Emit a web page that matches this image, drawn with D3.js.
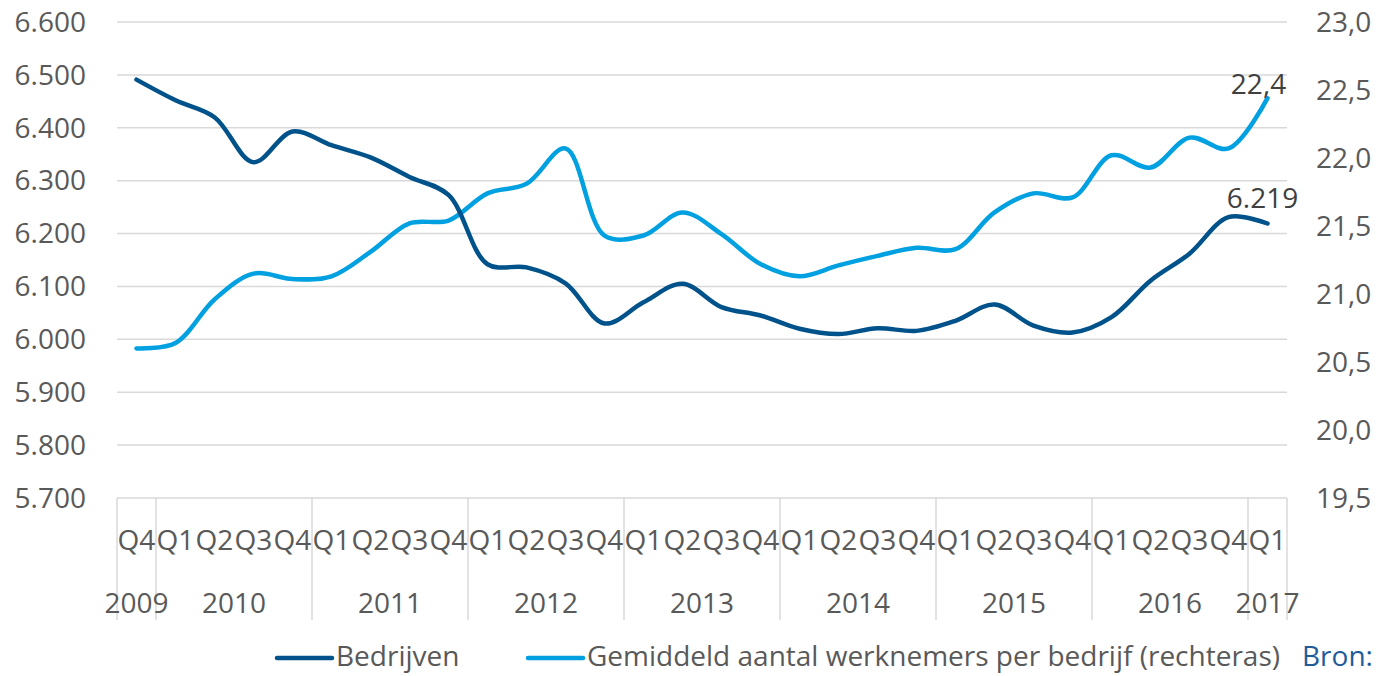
<!DOCTYPE html>
<html>
<head>
<meta charset="utf-8">
<script src="https://cdn.jsdelivr.net/npm/d3@7"></script>
<style>
  body { margin: 0; background: #fff; }
  svg text { font-family: "Open Sans", "Noto Sans", sans-serif; }
</style>
</head>
<body>
<div id="chart"></div>
<script>
// categories: quarter + year group
var quarters = ["Q4","Q1","Q2","Q3","Q4","Q1","Q2","Q3","Q4","Q1","Q2","Q3","Q4","Q1","Q2","Q3","Q4",
                "Q1","Q2","Q3","Q4","Q1","Q2","Q3","Q4","Q1","Q2","Q3","Q4","Q1"];
var years = ["2009","2010","2010","2010","2010","2011","2011","2011","2011","2012","2012","2012","2012",
             "2013","2013","2013","2013","2014","2014","2014","2014","2015","2015","2015","2015",
             "2016","2016","2016","2016","2017"];
// Bedrijven (left axis)
var bedrijven = [6.491, 6.452, 6.420, 6.335, 6.393, 6.367, 6.344, 6.307, 6.273, 6.142,
                 6.136, 6.106, 6.030, 6.070, 6.105, 6.061, 6.045, 6.020, 6.010, 6.021,
                 6.016, 6.035, 6.066, 6.026, 6.013, 6.042, 6.111, 6.162, 6.231, 6.219];
// Gemiddeld aantal werknemers per bedrijf (right axis)
var werknemers = [20.60, 20.64, 20.96, 21.15, 21.11, 21.13, 21.31, 21.52, 21.54, 21.74,
                  21.81, 22.07, 21.43, 21.43, 21.60, 21.44, 21.22, 21.13, 21.21, 21.28,
                  21.34, 21.33, 21.60, 21.74, 21.71, 22.02, 21.93, 22.15, 22.07, 22.44];
var leftTicks = [5.7, 5.8, 5.9, 6.0, 6.1, 6.2, 6.3, 6.4, 6.5, 6.6];
var rightTicks = [19.5, 20.0, 20.5, 21.0, 21.5, 22.0, 22.5, 23.0];
var seriesNames = ["Bedrijven", "Gemiddeld aantal werknemers per bedrijf (rechteras)"];

function init() {
    var w = 1376, h = 676;
    var left = 117, right = 1287, top = 22, bottom = 498;
    var dark = "#00528a", light = "#00a0e1";
    var grey = "#d9d9d9", textCol = "#595959";
    var fs = 28;

    var svg = d3.select("#chart").append("svg")
        .attr("width", w)
        .attr("height", h);

    var x = d3.scaleBand()
        .domain(d3.range(quarters.length))
        .range([left, right])
        .paddingInner(0).paddingOuter(0);
    var cx = i => x(i) + x.bandwidth() / 2;

    var yL = d3.scaleLinear().domain([5.7, 6.6]).range([bottom, top]);
    var yR = d3.scaleLinear().domain([19.5, 23.0]).range([bottom, top]);

    var fmtL = d3.formatLocale({decimal: ",", thousands: ".", grouping: [3], currency: ["", ""]});

    // horizontal gridlines
    svg.append("g").selectAll("line")
        .data(leftTicks)
        .enter().append("line")
        .attr("x1", left).attr("x2", right)
        .attr("y1", d => yL(d)).attr("y2", d => yL(d))
        .attr("stroke", grey).attr("stroke-width", 1.5);

    // left axis labels
    svg.append("g").selectAll("text")
        .data(leftTicks)
        .enter().append("text")
        .attr("x", 86)
        .attr("y", d => yL(d))
        .attr("dy", "0.35em")
        .attr("text-anchor", "end")
        .attr("font-size", fs)
        .attr("fill", textCol)
        .text(d => fmtL.format(",")(Math.round(d * 1000)));

    // right axis labels
    svg.append("g").selectAll("text")
        .data(rightTicks)
        .enter().append("text")
        .attr("x", 1316)
        .attr("y", d => yR(d))
        .attr("dy", "0.35em")
        .attr("font-size", fs)
        .attr("fill", textCol)
        .text(d => fmtL.format(".1f")(d));

    // category separators (year groups)
    var bounds = [0];
    years.forEach((y, i) => { if (i > 0 && y !== years[i - 1]) bounds.push(i); });
    svg.append("g").selectAll("line")
        .data(bounds.concat([quarters.length]))
        .enter().append("line")
        .attr("x1", d => d < quarters.length ? x(d) : right)
        .attr("x2", d => d < quarters.length ? x(d) : right)
        .attr("y1", bottom).attr("y2", 620)
        .attr("stroke", grey).attr("stroke-width", 1.5);

    // quarter labels
    svg.append("g").selectAll("text")
        .data(quarters)
        .enter().append("text")
        .attr("x", (d, i) => cx(i))
        .attr("y", 540)
        .attr("dy", "0.35em")
        .attr("text-anchor", "middle")
        .attr("font-size", fs)
        .attr("fill", textCol)
        .text(d => d);

    // year labels
    var groups = bounds.map((b, k) => {
        var end = k + 1 < bounds.length ? bounds[k + 1] : quarters.length;
        return {year: years[b], mid: (x(b) + (end < quarters.length ? x(end) : right)) / 2};
    });
    svg.append("g").selectAll("text")
        .data(groups)
        .enter().append("text")
        .attr("x", d => d.mid)
        .attr("y", 603)
        .attr("dy", "0.35em")
        .attr("text-anchor", "middle")
        .attr("font-size", fs)
        .attr("fill", textCol)
        .text(d => d.year);

    // lines
    var lineL = d3.line().x((d, i) => cx(i)).y(d => yL(d)).curve(d3.curveCatmullRom.alpha(0.5));
    var lineR = d3.line().x((d, i) => cx(i)).y(d => yR(d)).curve(d3.curveCatmullRom.alpha(0.5));

    svg.append("path").datum(werknemers)
        .attr("d", lineR)
        .attr("fill", "none").attr("stroke", light)
        .attr("stroke-width", 4.5).attr("stroke-linecap", "round");
    svg.append("path").datum(bedrijven)
        .attr("d", lineL)
        .attr("fill", "none").attr("stroke", dark)
        .attr("stroke-width", 4.5).attr("stroke-linecap", "round");

    // end labels
    var last = quarters.length - 1;
    svg.append("text")
        .attr("x", cx(last) - 9).attr("y", yR(werknemers[last]) - 4)
        .attr("text-anchor", "middle").attr("font-size", fs).attr("fill", "#404040")
        .text(fmtL.format(".1f")(22.4));
    svg.append("text")
        .attr("x", cx(last) - 5).attr("y", yL(bedrijven[last]) - 25)
        .attr("dy", "0.35em")
        .attr("text-anchor", "middle").attr("font-size", fs).attr("fill", "#404040")
        .text(fmtL.format(",")(Math.round(bedrijven[last] * 1000)));

    // legend
    var legend = [{name: seriesNames[0], color: dark, x: 277},
                  {name: seriesNames[1], color: light, x: 528}];
    var lg = svg.append("g").selectAll("g")
        .data(legend)
        .enter().append("g")
        .attr("transform", d => `translate(${d.x},656)`);
    lg.append("line")
        .attr("x1", 0).attr("x2", 55)
        .attr("y1", 2).attr("y2", 2)
        .attr("stroke", d => d.color).attr("stroke-width", 4.5).attr("stroke-linecap", "round");
    lg.append("text")
        .attr("x", 59).attr("dy", "0.35em")
        .attr("font-size", fs).attr("fill", textCol)
        .text(d => d.name);

    svg.append("text")
        .attr("x", 1302).attr("y", 656).attr("dy", "0.35em")
        .attr("font-size", fs).attr("fill", "#1f5c99")
        .text("Bron:");
}

window.onload = init;
</script>
</body>
</html>
